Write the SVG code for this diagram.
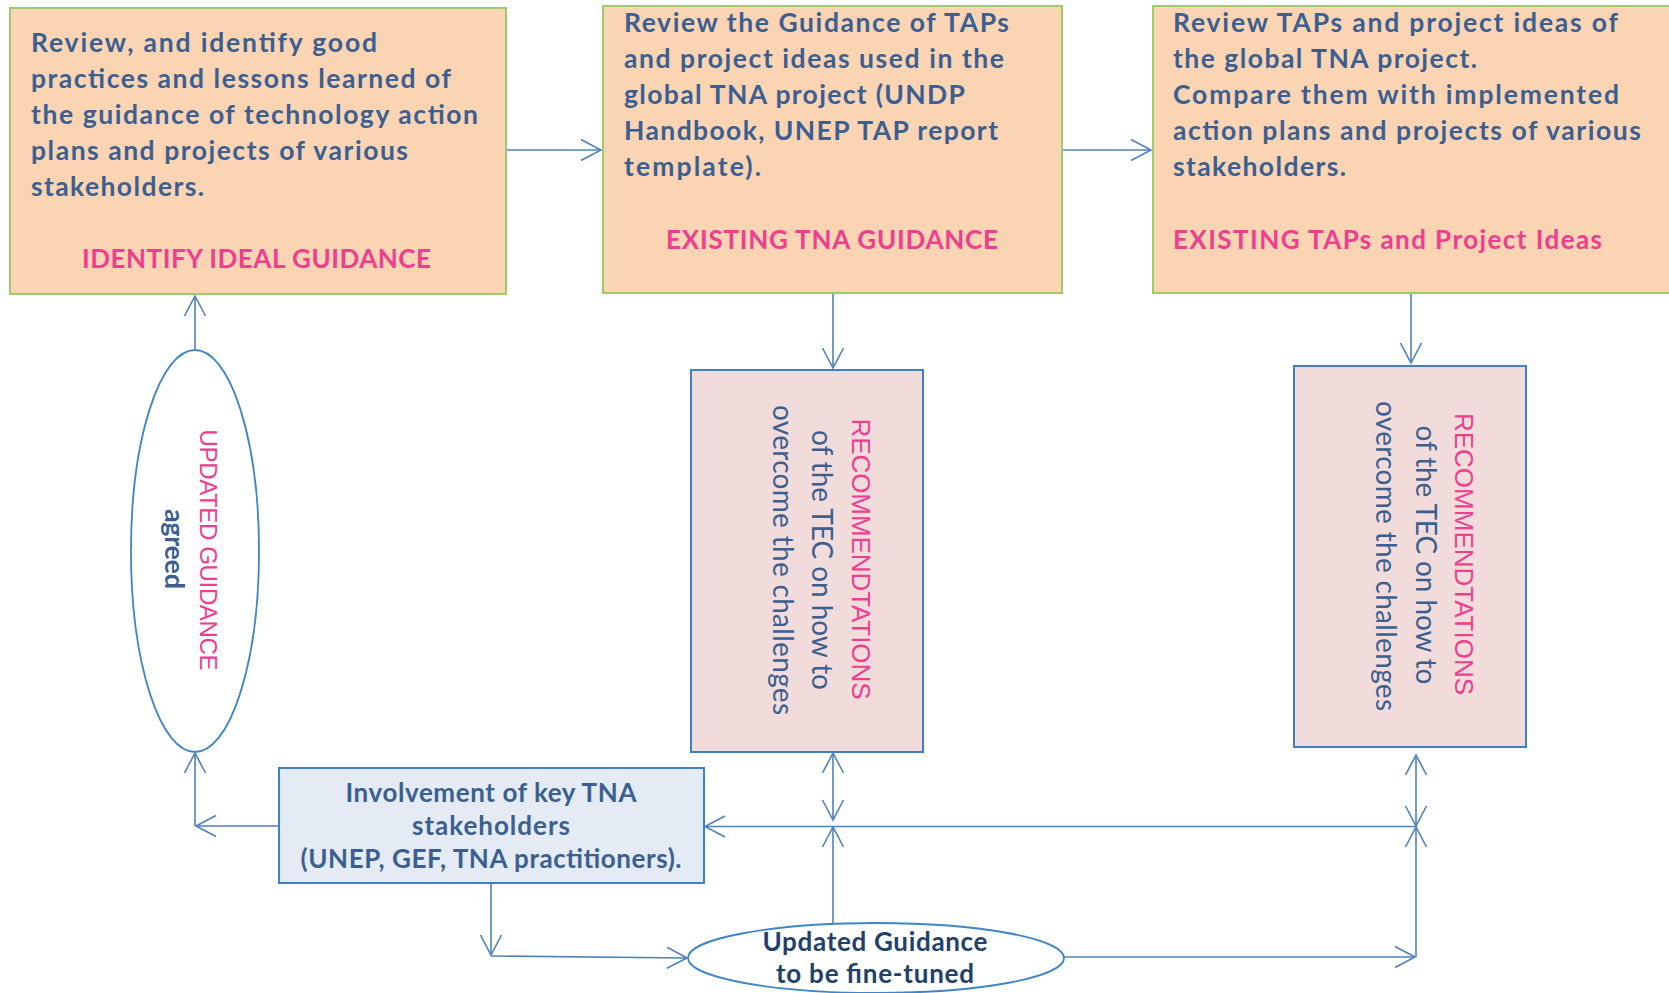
<svg xmlns="http://www.w3.org/2000/svg" width="1669" height="993" viewBox="0 0 1669 993">
<defs>
<style>
.box{fill:#FBD4B4;stroke:#9DCB6A;stroke-width:2}
.rec{fill:#F2DCDB;stroke:#3F7FC4;stroke-width:2}
.stk{fill:#E4EBF5;stroke:#3F7FC4;stroke-width:2}
.ell{fill:#FFFFFF;stroke:#3D85C6;stroke-width:1.8}
.t{font-family:Lato,"Liberation Sans",sans-serif;font-weight:700;font-size:26.5px;fill:#3B5F91}
.p{font-family:Lato,"Liberation Sans",sans-serif;font-weight:700;font-size:26px;fill:#EF3D8F}
.rp{font-family:"Liberation Sans",Arial,sans-serif;font-weight:400;font-size:26px;fill:#EF3D8F}
.rb{font-family:Lato,"Liberation Sans",sans-serif;font-weight:400;font-size:28px;fill:#3B5F91}
.rbb{font-family:Lato,"Liberation Sans",sans-serif;font-weight:700;font-size:27px;fill:#3B5F91}
.st{font-family:Lato,"Liberation Sans",sans-serif;font-weight:700;font-size:26px;fill:#3B5F91;text-anchor:middle}
.et{font-family:Lato,"Liberation Sans",sans-serif;font-weight:700;font-size:26px;fill:#22406A;text-anchor:middle}
.c{fill:none;stroke:#4F81BD;stroke-width:1.6}
</style>
<marker id="ah" markerUnits="userSpaceOnUse" markerWidth="30" markerHeight="30" viewBox="-25 -15 30 30" refX="0" refY="0" orient="auto-start-reverse">
<path d="M-20,-10.5 L0,0 L-20,10.5" fill="none" stroke="#4F81BD" stroke-width="1.6"/>
</marker>
</defs>
<rect width="1669" height="993" fill="#FFFFFF"/>

<g id="connectors">
<line class="c" x1="506" y1="150" x2="601" y2="150" marker-end="url(#ah)"/>
<line class="c" x1="1062" y1="150" x2="1151" y2="150" marker-end="url(#ah)"/>
<line class="c" x1="833" y1="293" x2="833" y2="368" marker-end="url(#ah)"/>
<line class="c" x1="1411" y1="293" x2="1411" y2="363" marker-end="url(#ah)"/>
<line class="c" x1="195" y1="349" x2="195" y2="296" marker-end="url(#ah)"/>
<line class="c" x1="279" y1="826" x2="196" y2="826" marker-end="url(#ah)"/>
<line class="c" x1="195" y1="826" x2="195" y2="753" marker-end="url(#ah)"/>
<line class="c" x1="1416" y1="826.5" x2="705" y2="826.5" marker-end="url(#ah)"/>
<line class="c" x1="833" y1="820" x2="833" y2="753" marker-start="url(#ah)" marker-end="url(#ah)"/>
<line class="c" x1="833" y1="924" x2="833" y2="827" marker-end="url(#ah)"/>
<line class="c" x1="1416" y1="957" x2="1416" y2="827" marker-end="url(#ah)"/>
<line class="c" x1="1416" y1="826" x2="1416" y2="755" marker-start="url(#ah)" marker-end="url(#ah)"/>
<line class="c" x1="1064" y1="957" x2="1415" y2="957" marker-end="url(#ah)"/>
<line class="c" x1="491" y1="883" x2="491" y2="955" marker-end="url(#ah)"/>
<line class="c" x1="491" y1="956" x2="687" y2="958" marker-end="url(#ah)"/>
</g>

<g id="box1">
<rect class="box" x="10" y="8" width="496" height="286"/>
<text class="t" x="31" y="52" textLength="346">Review,  and identify  good</text>
<text class="t" x="31" y="88" textLength="420">practices and lessons learned  of</text>
<text class="t" x="31" y="124" textLength="447">the guidance of technology action</text>
<text class="t" x="31" y="160" textLength="377">plans and projects of various</text>
<text class="t" x="31" y="196" textLength="173">stakeholders.</text>
<text class="p" x="82" y="268" textLength="349">IDENTIFY IDEAL GUIDANCE</text>
</g>

<g id="box2">
<rect class="box" x="603" y="6" width="459" height="287"/>
<text class="t" x="624" y="32" textLength="385">Review  the Guidance of TAPs</text>
<text class="t" x="624" y="68" textLength="380">and project ideas used in the</text>
<text class="t" x="624" y="104" textLength="341">global TNA project (UNDP</text>
<text class="t" x="624" y="140" textLength="374">Handbook, UNEP TAP report</text>
<text class="t" x="624" y="176" textLength="137">template).</text>
<text class="p" x="666" y="249" textLength="332">EXISTING TNA GUIDANCE</text>
</g>

<g id="box3">
<rect class="box" x="1153" y="6" width="520" height="287"/>
<text class="t" x="1173" y="32" textLength="445">Review  TAPs and project ideas  of</text>
<text class="t" x="1173" y="68" textLength="304">the global TNA project.</text>
<text class="t" x="1173" y="104" textLength="446">Compare them with implemented</text>
<text class="t" x="1173" y="140" textLength="468">action plans and projects of various</text>
<text class="t" x="1173" y="176" textLength="173">stakeholders.</text>
<text class="p" x="1173" y="249" textLength="429">EXISTING TAPs and Project Ideas</text>
</g>

<g id="rec1">
<rect class="rec" x="691" y="370" width="232" height="382"/>
<text class="rp" transform="translate(852,559) rotate(90)" text-anchor="middle" textLength="281">RECOMMENDTATIONS</text>
<text class="rb" transform="translate(812,560) rotate(90)" text-anchor="middle" textLength="260">of the TEC on how to</text>
<text class="rb" transform="translate(773,560) rotate(90)" text-anchor="middle" textLength="310">overcome the challenges</text>
</g>

<g id="rec2">
<rect class="rec" x="1294" y="366" width="232" height="381"/>
<text class="rp" transform="translate(1455,554) rotate(90)" text-anchor="middle" textLength="282">RECOMMENDTATIONS</text>
<text class="rb" transform="translate(1416,555) rotate(90)" text-anchor="middle" textLength="259">of the TEC on how to</text>
<text class="rb" transform="translate(1376,556) rotate(90)" text-anchor="middle" textLength="310">overcome the challenges</text>
</g>

<g id="updated-agreed">
<ellipse class="ell" cx="195" cy="551" rx="64" ry="201"/>
<text class="rp" style="font-size:24px" transform="translate(200,550) rotate(90)" text-anchor="middle" textLength="241">UPDATED GUIDANCE</text>
<text class="rbb" transform="translate(165,549) rotate(90)" text-anchor="middle" textLength="80">agreed</text>
</g>

<g id="stakeholders">
<rect class="stk" x="279" y="768" width="425" height="115"/>
<text class="st" x="491" y="802" textLength="291">Involvement of key TNA</text>
<text class="st" x="491" y="835" textLength="158">stakeholders</text>
<text class="st" x="491" y="868" textLength="381">(UNEP, GEF, TNA practitioners).</text>
</g>

<g id="fine-tuned">
<ellipse class="ell" cx="876" cy="958" rx="188" ry="35"/>
<text class="et" x="875" y="951" textLength="225">Updated Guidance</text>
<text class="et" x="875" y="983" textLength="198">to be fine-tuned</text>
</g>
</svg>
